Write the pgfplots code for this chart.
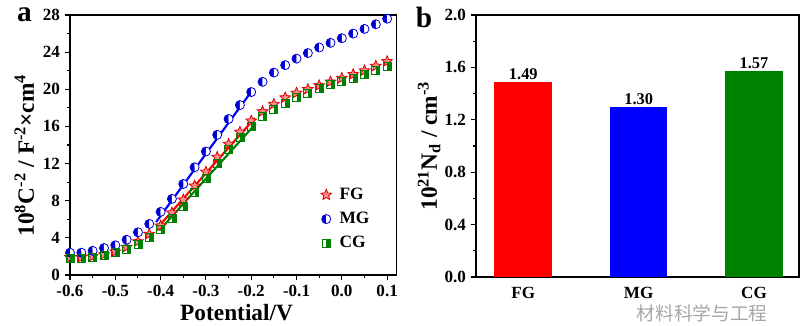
\documentclass[border=0pt]{standalone}
\usepackage{fontspec}
\setmainfont{Liberation Serif}
\newfontfamily\cjk{Noto Sans CJK SC}
\usepackage{pgfplots}
\pgfplotsset{compat=1.18}
\usetikzlibrary{plotmarks}
\definecolor{mygreen}{RGB}{0,128,0}
\pgfdeclareplotmark{fstar}{%
  \pgfpathmoveto{\pgfpointpolar{90}{\pgfplotmarksize}}%
  \pgfpathlineto{\pgfpointpolar{126}{0.45\pgfplotmarksize}}%
  \pgfpathlineto{\pgfpointpolar{162}{\pgfplotmarksize}}%
  \pgfpathlineto{\pgfpointpolar{198}{0.45\pgfplotmarksize}}%
  \pgfpathlineto{\pgfpointpolar{234}{\pgfplotmarksize}}%
  \pgfpathlineto{\pgfpointpolar{270}{0.45\pgfplotmarksize}}%
  \pgfpathlineto{\pgfpointpolar{306}{\pgfplotmarksize}}%
  \pgfpathlineto{\pgfpointpolar{342}{0.45\pgfplotmarksize}}%
  \pgfpathlineto{\pgfpointpolar{18}{\pgfplotmarksize}}%
  \pgfpathlineto{\pgfpointpolar{54}{0.45\pgfplotmarksize}}%
  \pgfpathclose
  \pgfusepathqfillstroke
}
\pgfdeclareplotmark{hsq}{%
  \pgfpathrectangle{\pgfpoint{0pt}{-\pgfplotmarksize}}{\pgfpoint{\pgfplotmarksize}{2\pgfplotmarksize}}%
  \pgfusepathqfill
  \pgfpathrectangle{\pgfpoint{-\pgfplotmarksize}{-\pgfplotmarksize}}{\pgfpoint{2\pgfplotmarksize}{2\pgfplotmarksize}}%
  \pgfusepathqstroke
}
\pgfplotstableread{
x FG MG CG
-0.600 1.9 2.4 1.8
-0.575 1.9 2.4 1.8
-0.550 2.0 2.6 1.9
-0.525 2.2 2.9 2.1
-0.500 2.5 3.2 2.4
-0.475 3.0 3.8 2.8
-0.450 3.6 4.6 3.3
-0.425 4.4 5.5 4.0
-0.400 5.3 6.8 4.9
-0.375 6.7 8.2 6.1
-0.350 8.1 9.8 7.4
-0.325 9.6 11.6 8.9
-0.300 11.1 13.3 10.4
-0.275 12.7 15.1 12.0
-0.250 14.1 16.8 13.5
-0.225 15.4 18.3 14.8
-0.200 16.6 19.7 16.0
-0.175 17.6 20.8 17.1
-0.150 18.4 21.8 17.8
-0.125 19.1 22.6 18.5
-0.100 19.6 23.3 19.1
-0.075 20.0 23.9 19.6
-0.050 20.4 24.5 20.1
-0.025 20.8 25.0 20.5
0.000 21.2 25.5 20.9
0.025 21.6 26.0 21.2
0.050 22.0 26.5 21.6
0.075 22.5 27.0 22.0
0.100 23.0 27.6 22.5
}\cvdata
\begin{document}
\begin{tikzpicture}
\useasboundingbox (0,0) rectangle (602.25pt,243.75pt);
\pgfplotsset{
  common/.style={
    scale only axis, anchor=south west,
    tick align=outside, xtick pos=bottom, ytick pos=left,
    major tick length=4pt, minor tick length=2.3pt,
    axis line style={line width=0.9pt},
    every tick/.style={line width=0.8pt, black},
    tick label style={font=\bfseries\fontsize{12.8}{13}\selectfont},
    /pgf/number format/assume math mode=true,
    label style={font=\bfseries\fontsize{17.5}{18}\selectfont},
  }
}
\begin{axis}[common,
  at={(52.5pt,37.5pt)}, width=245pt, height=195pt,
  xmin=-0.6, xmax=0.121, ymin=0, ymax=28,
  xtick={-0.6,-0.5,-0.4,-0.3,-0.2,-0.1,0,0.1},
  ytick={0,4,8,12,16,20,24,28},
  minor x tick num=1, minor y tick num=1,
  x tick label style={/pgf/number format/fixed,/pgf/number format/fixed zerofill,/pgf/number format/precision=1},
  xlabel={Potential/V},
  ylabel={10\textsuperscript{8}C\textsuperscript{-2} / F\textsuperscript{-2}×cm\textsuperscript{4}},
  xlabel style={at={(axis description cs:0.51,-0.145)}, anchor=center},
  ylabel style={at={(axis description cs:-0.14,0.46)}, anchor=center},
  legend style={draw=none, fill=none, at={(0.755,0.215)}, anchor=west,
    font=\bfseries\fontsize{13}{13}\selectfont, row sep=4pt, column sep=4pt},
  legend cell align=left,
]
\addplot[only marks, mark=fstar, mark size=4.2pt, draw=red!85!black, fill=red!45, line width=0.6pt] table[x=x,y=FG] {\cvdata};
\addlegendentry{FG}
\addplot[only marks, mark=halfcircle*, mark size=3.4pt, draw=blue!85!black, fill=blue!80!black, line width=0.6pt, mark options={rotate=90, fill=blue!80!black}] table[x=x,y=MG] {\cvdata};
\addlegendentry{MG}
\addplot[only marks, mark=hsq, mark size=3pt, draw=mygreen, fill=mygreen, line width=0.6pt] table[x=x,y=CG] {\cvdata};
\addlegendentry{CG}
\addplot[forget plot, blue, line width=1.6pt] coordinates {(-0.41,5.7) (-0.196,20.0)};
\addplot[forget plot, red, line width=1.6pt] coordinates {(-0.403,5.3) (-0.192,16.9)};
\addplot[forget plot, mygreen, line width=1.6pt] coordinates {(-0.403,4.8) (-0.19,16.3)};
\end{axis}
\node[font=\bfseries\fontsize{22}{22}\selectfont, anchor=base] at (18.4pt,227.25pt) {a};

\begin{axis}[common,
  at={(357pt,36pt)}, width=242.25pt, height=196.5pt,
  xmin=-0.41, xmax=2.39, ymin=0, ymax=2,
  xtick={0,1,2}, xticklabels={FG,MG,CG},
  major x tick style={draw=none},
  ytick={0,0.4,0.8,1.2,1.6,2.0},
  minor y tick num=1,
  y tick label style={/pgf/number format/fixed,/pgf/number format/fixed zerofill,/pgf/number format/precision=1},
  ylabel={10\textsuperscript{21}N\textsubscript{d} / cm\textsuperscript{-3}},
  ylabel style={at={(axis description cs:-0.145,0.5)}, anchor=center},
  ybar, bar width=0.5, bar shift=0pt,
  nodes near coords,
  nodes near coords style={font=\bfseries\fontsize{12.3}{12}\selectfont, black,
    /pgf/number format/fixed,/pgf/number format/fixed zerofill,/pgf/number format/precision=2, inner sep=1.5pt},
]
\addplot[fill=red, draw=none] coordinates {(0,1.49)};
\addplot[fill=blue, draw=none] coordinates {(1,1.30)};
\addplot[fill=mygreen, draw=none] coordinates {(2,1.57)};
\end{axis}
\node[font=\bfseries\fontsize{22}{22}\selectfont, anchor=base] at (318pt,222.75pt) {b};
\node[font=\cjk\fontsize{14}{14}\selectfont, text=gray!70, inner sep=1pt] at (526.5pt,9pt) {材料科学与工程};
\end{tikzpicture}
\end{document}
